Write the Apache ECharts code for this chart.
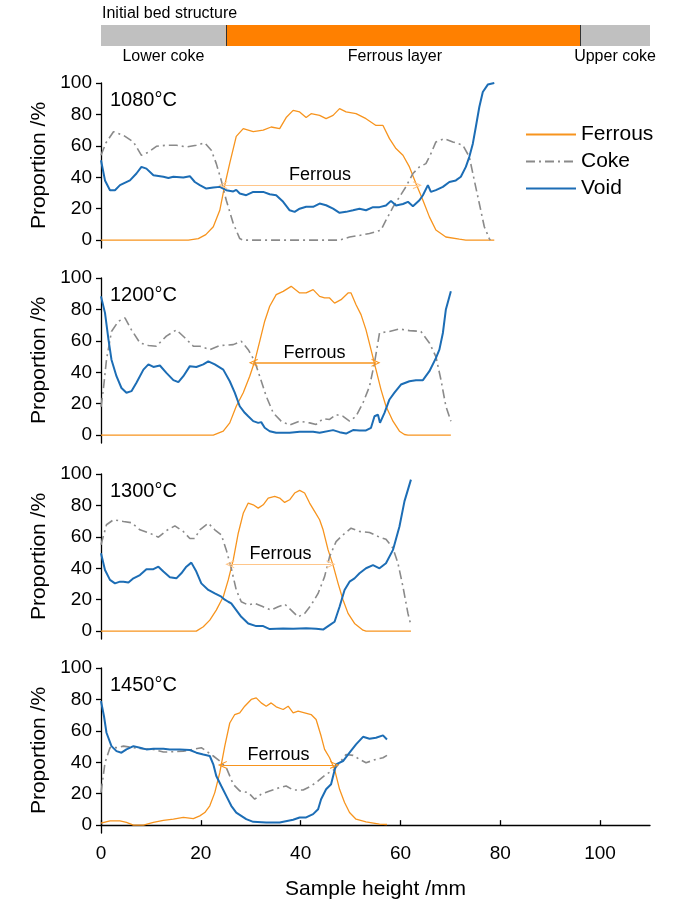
<!DOCTYPE html>
<html><head><meta charset="utf-8">
<script src="https://cdn.jsdelivr.net/npm/echarts@6/dist/echarts.min.js"></script>
<style>html,body{margin:0;padding:0;background:#fff}#c{width:679px;height:903px}</style>
</head><body><div id="c"></div><script>
// ---- data ----
const temps = ['1080°C', '1200°C', '1300°C', '1450°C'];
const tickValues = [0, 20, 40, 60, 80, 100];
const bedLayers = ['Lower coke', 'Ferrous layer', 'Upper coke'];
const bedThickness = [25, 71, 14];
const arrowStart = [24.4, 30.5, 25.8, 24.3];
const arrowEnd = [63.4, 55.1, 46.1, 46.8];
const arrowLevel = [35, 46, 42.5, 38.3];

const f1080 = [[0,0],[17.5,0],[19.5,1],[21,3.5],[22.5,8.5],[23.8,19],[24.8,35],[25.8,49],[27.1,66],[28.5,71],[30.5,69],[32.5,70],[34.1,72],[35.8,71],[37.1,78],[38.5,82.6],[39.8,81.6],[41.1,78],[42.1,80.5],[43.8,79.4],[45.1,77.3],[46.5,79.4],[47.8,83.7],[49.1,81.6],[51.1,80.5],[53.1,77.3],[55.1,73],[56.5,73],[57.8,64.6],[59.1,58.3],[60.5,54],[61.8,46.6],[63.1,36],[64.5,25.4],[65.8,14.8],[67.1,6.4],[69.1,2],[71.8,0.6],[73.1,0],[78.8,0]];
const c1080 = [[0,54],[1,62],[2.5,69],[4.5,66.7],[6.5,62.5],[8.1,54],[9.5,56],[11.1,59.7],[13.1,60.4],[15.1,60.4],[17.1,59.3],[19.1,60.4],[20.8,61.9],[22.1,57.2],[23.1,48.7],[24.1,38],[25.1,25.4],[26.5,10.6],[27.8,1],[28.5,0],[47.8,0],[49.8,2],[51.8,3],[53.8,4.2],[56.1,6.4],[57.1,12.7],[58.5,21],[59.8,27.5],[61.1,34],[62.5,42.4],[63.8,46.6],[65.1,48.7],[66.1,55],[67.1,62.5],[68.8,64.6],[70.5,62.5],[72.5,60.4],[73.8,53],[74.8,38],[75.8,23.3],[76.8,8.5],[77.8,1],[78,0]];
const v1080 = [[0,50.8],[0.8,38],[1.8,31.8],[2.8,31.8],[3.8,35],[5.8,38],[7.1,42.4],[8.1,46.6],[9.1,45.5],[10.5,41.3],[12.5,40.3],[13.5,39.5],[14.5,40.3],[16.5,39.8],[17.8,40.7],[18.8,37],[19.8,35],[21.1,32.8],[22.5,33.5],[23.8,33.9],[25.1,31.8],[26.5,31],[27.1,32],[27.8,29.7],[29.1,28.6],[30.5,30.7],[32.5,30.7],[33.8,29.2],[35.1,28.6],[36.5,24.4],[37.8,19],[38.8,18],[39.8,20],[41.1,21.2],[42.5,21.2],[43.8,23.3],[45.1,22.2],[46.5,20],[47.8,17.4],[49.1,18],[50.5,19],[51.8,20],[53.1,19],[54.5,21],[55.8,21],[57.1,22],[58.1,25],[59.1,22],[60.5,23],[61.5,24.4],[62.5,21.6],[63.8,25.4],[64.5,28.6],[65.5,35],[66.1,30.7],[67.1,31.8],[68.5,33.9],[69.8,37],[71.1,38],[72.1,40.3],[73.1,46.6],[73.8,53],[74.5,61.4],[75.1,72],[75.8,84.7],[76.5,94.3],[77.5,99],[78.8,100]];

const f1200 = [[0,0],[22.5,0],[24.5,2.5],[25.8,7.8],[27.1,18.4],[28.5,27],[29.8,37.5],[30.8,47],[31.8,59.7],[32.8,72.5],[33.8,82],[35.1,89.4],[36.5,91.5],[38.1,94.7],[39.8,90.5],[41.1,90.5],[42.5,92.6],[43.8,88.3],[44.8,87.3],[45.8,87.3],[46.8,84],[48.1,86.2],[49.5,90.5],[50.1,90.5],[51.1,83],[52.1,76.7],[53.1,67],[54.1,54.4],[55.1,41.7],[56.1,29],[57.1,18.4],[58.5,8.9],[59.8,2.5],[60.8,0.4],[61.5,0],[70.1,0]];
const c1200 = [[0,18],[0.5,30],[1.1,48],[2.1,66],[3.5,72.5],[4.8,74.6],[6.1,67],[7.8,58.7],[9.5,57],[11.1,56.6],[13.1,63],[15.1,67],[16.8,62],[18.5,56.6],[19.8,56.6],[21.8,54.4],[23.8,57],[26.5,57.6],[28.1,59.7],[29.5,54.4],[30.8,47],[31.8,37.5],[33.1,24.8],[34.5,14.2],[36.1,8.9],[37.8,6.4],[39.8,8.9],[41.8,7.8],[43.1,6.8],[44.5,10.4],[45.8,10],[47.1,13.1],[48.5,12],[49.8,8.9],[51.1,12],[52.5,20.6],[53.8,31],[54.8,46],[55.8,65],[57.8,66],[59.8,67.6],[61.8,66.5],[64.1,66],[65.8,58.7],[67.1,50],[68.1,35.4],[69.1,18.4],[70.1,8.9]];
const v1200 = [[0,88.3],[0.8,77.8],[1.5,60.8],[2.1,48],[3.1,37.5],[4.1,30],[5.1,27],[6.1,28],[7.1,33.3],[8.5,41.7],[9.5,45],[10.5,43.4],[11.8,44.3],[13.1,39.6],[14.5,35],[15.5,33.7],[16.5,37.5],[17.8,43.9],[19.1,43.4],[20.5,45],[21.5,47],[22.8,45],[24.5,41.7],[25.8,34.3],[26.8,27],[27.8,18.4],[28.8,14.2],[29.5,12],[30.5,8.9],[31.5,7.8],[32.1,8.3],[32.8,4.7],[33.8,2.5],[35.1,1.5],[37.8,1.5],[39.8,2.1],[42.5,2.1],[43.8,1.5],[46.5,3.2],[47.8,1.9],[49.1,1],[50.5,3.2],[51.8,3],[53.1,3],[54.1,4.7],[54.8,12],[55.5,13],[55.9,7.8],[56.8,14.2],[57.8,22.7],[58.8,27],[60.1,32.2],[61.8,34.3],[63.1,35],[64.5,35],[65.8,40.7],[67.1,49],[67.8,54.4],[68.5,65],[69.1,80],[70.1,91.5]];

const f1300 = [[0,0],[19.1,0],[20.5,2.8],[21.8,7],[23.1,13.4],[24.5,21.9],[25.5,32.6],[26.5,45.3],[27.5,62.3],[28.5,75],[29.5,81.5],[30.5,80.4],[31.5,78.3],[32.5,80.4],[33.5,84.7],[34.8,85.7],[35.8,84.7],[36.8,81.9],[37.8,83.6],[38.8,87.9],[39.8,89.6],[40.8,87.9],[41.8,81.5],[42.8,76.2],[43.8,70.9],[44.5,64.5],[45.5,51.7],[46.5,42],[47.5,30.4],[48.5,19.8],[49.5,11.3],[50.8,4.9],[52.5,0.6],[53.1,0],[62.1,0]];
const c1300 = [[0,55],[1.1,67.7],[2.5,70.9],[4.5,69.8],[6.1,69],[7.8,64.5],[9.8,62.3],[11.5,59.8],[13.1,64],[14.8,67],[16.5,63.4],[17.8,59],[18.8,59],[19.8,64.5],[21.5,68.7],[22.8,64.5],[24.1,61.3],[25.1,51.7],[26.1,40],[27.1,26.2],[28.1,18.7],[29.5,16.6],[30.8,17.7],[32.5,15.5],[34.1,13.4],[35.5,15.5],[36.8,17.2],[38.1,13.4],[39.5,9.1],[40.8,11.3],[42.1,16.6],[43.5,24],[44.8,34.7],[45.8,47.4],[47.1,57],[48.5,61.3],[50.1,65.5],[51.8,63.4],[53.8,62.8],[55.8,59.8],[57.1,58.5],[58.5,52.8],[59.5,43.2],[60.5,28.3],[61.5,11.3],[62.1,3.8]];
const v1300 = [[0,49.6],[0.8,38.9],[1.8,32.6],[2.8,30.4],[3.8,31.5],[4.5,31.5],[5.5,30.9],[6.5,33.6],[7.8,35.7],[9.1,39.4],[10.5,39.4],[11.5,41],[12.5,37.9],[13.8,34.3],[15.1,33.6],[16.1,36.8],[17.1,41],[18.1,43.6],[19.1,37.9],[20.1,30.4],[21.5,26.2],[22.8,24],[24.1,21.9],[24.8,20],[25.5,18.7],[26.1,17.7],[27.1,13.4],[28.1,9.1],[29.5,4.9],[31.1,3.2],[32.5,3.2],[33.8,1.3],[36.5,1.7],[38.5,1.5],[41.1,1.9],[43.1,1.5],[44.5,1],[45.8,3.8],[46.8,6],[47.8,15.5],[48.8,26.2],[49.8,31.5],[50.8,33.6],[51.8,36.8],[53.1,40],[54.5,42],[55.8,40],[57.1,43.2],[58.5,51.7],[59.8,66.6],[60.8,82.6],[62.1,96.4]];

const f1450 = [[0,1.3],[1.8,2.7],[3.8,2.7],[5.1,1.7],[6.5,0],[8.5,0],[10.5,1.7],[12.5,3],[14.5,3.8],[16.5,4.9],[18.5,4.2],[19.8,5.9],[20.8,8],[21.8,12.3],[22.8,20.7],[23.8,33.4],[24.8,50.3],[25.8,65],[26.8,70.4],[27.8,71.5],[28.8,75.7],[30.1,80],[31.1,81],[32.1,77.8],[33.1,75.7],[34.1,77.8],[35.1,75.3],[36.5,73.6],[37.5,75.7],[38.5,71.5],[39.5,72.5],[40.8,71.5],[42.1,70.4],[43.1,67.2],[44.1,56.7],[44.8,48.2],[45.8,42.9],[46.8,35.5],[47.8,22.8],[48.8,14.4],[49.8,8],[51.1,3.8],[53.1,2.1],[55.8,0.6],[57.3,0.4]];
const c1450 = [[0,20.7],[0.8,39.7],[1.8,49.3],[3.1,49.3],[4.5,50.3],[6.5,49.3],[8.5,48.6],[10.5,48.2],[12.5,46.5],[14.5,46.7],[16.5,47.1],[18.5,48.2],[20.1,49.3],[21.1,47.1],[22.5,44],[23.8,40.8],[25.1,36.6],[26.5,26],[27.8,21.8],[29.5,20.7],[30.8,16.5],[32.1,19.7],[33.8,21.8],[35.8,23.9],[37.1,24.9],[38.5,22.4],[40.5,22.4],[42.1,24.9],[43.5,28.1],[45.1,32.3],[46.8,35.5],[47.8,39.7],[49.1,45],[50.5,44.4],[51.8,41.9],[53.1,39.7],[55.1,41.9],[56.5,42.9],[57.3,44.4]];
const v1450 = [[0,78.9],[0.6,69.3],[1.1,58.8],[2.1,50.3],[3.1,47.1],[4.1,46.1],[5.1,48.2],[6.5,50.3],[7.8,49.3],[9.1,48.2],[10.5,48.6],[12.5,48.6],[13.8,48.2],[15.8,48.2],[17.8,47.8],[19.1,46.1],[20.5,45],[21.8,44],[22.5,38.7],[23.1,31.3],[24.1,24.9],[25.1,18.6],[26.1,12.3],[27.1,8],[28.1,5.9],[29.1,3.8],[30.5,2.1],[33.1,1.7],[35.8,1.7],[38.5,3.4],[39.8,4.9],[41.1,4.9],[42.5,7],[43.5,10.1],[44.1,16.5],[45.1,22.8],[46.1,26],[47.1,38.7],[48.5,40.8],[49.8,46.1],[51.1,51.4],[52.5,56.2],[53.8,55],[55.1,55.6],[56.5,57.1],[57.3,54.5]];

const ferrousData = [f1080, f1200, f1300, f1450];
const cokeData = [c1080, c1200, c1300, c1450];
const voidData = [v1080, v1200, v1300, v1450];

// ---- layout / style ----
const FONT = 'Liberation Sans, Arial, sans-serif';
const ORANGE = '#F7941E', GRAY = '#8A8A8A', BLUE = '#1C6DB5';
const gridTops = [83, 278, 474, 668];
const arrowColors = ['#FFC68A', '#F7941E', '#FFC68A', '#F7941E'];
const arrowWidths = [1, 1.5, 1, 1.2];
const CHEVRON = 'path://M0,10 L5,0 L10,10 L8.6,10 L5,2.8 L1.4,10 Z';

const chart = echarts.init(document.getElementById('c'), null, {renderer: 'canvas'});

const grid = [{left: 101, width: 549, top: 25, height: 21}];
gridTops.forEach(t => grid.push({left: 101, width: 549, top: t, height: 165}));

const xAxis = [{gridIndex: 0, type: 'value', min: 0, max: 110, show: false}];
const yAxis = [{gridIndex: 0, type: 'category', data: ['bed'], show: false}];
for (let k = 0; k < 4; k++) {
  const last = k === 3;
  xAxis.push({
    gridIndex: k + 1, type: 'value', min: 0, max: 110, show: last,
    splitLine: {show: false},
    axisLine: {show: true, lineStyle: {color: '#000', width: 1.3}},
    axisTick: {show: true, inside: true, length: 5, customValues: tickValues, lineStyle: {color: '#000', width: 1.3}},
    axisLabel: {customValues: tickValues, fontSize: 19, color: '#000', margin: 11, fontFamily: FONT},
    name: last ? 'Sample height /mm' : '', nameLocation: 'middle', nameGap: 46,
    nameTextStyle: {fontSize: 21, color: '#000', fontFamily: FONT}
  });
  yAxis.push({
    gridIndex: k + 1, type: 'value', min: -5, max: 100,
    splitLine: {show: false},
    axisLine: {show: true, onZero: false, lineStyle: {color: '#000', width: 1.3}},
    axisTick: {show: true, inside: false, length: 5, customValues: tickValues, lineStyle: {color: '#000', width: 1.3}},
    axisLabel: {customValues: tickValues, fontSize: 19, color: '#000', margin: 9, fontFamily: FONT},
    name: 'Proportion /%', nameLocation: 'middle', nameGap: 48,
    nameTextStyle: {fontSize: 21, color: '#000', fontFamily: FONT}
  });
}

const series = [];
// initial bed structure bar
const bedColors = ['#C0C0C0', '#FF8000', '#C0C0C0'];
bedLayers.forEach((name, i) => {
  series.push({
    name, type: 'bar', stack: 'bed', xAxisIndex: 0, yAxisIndex: 0, barWidth: 21,
    data: [bedThickness[i]], itemStyle: {color: bedColors[i]}, silent: true,
    label: {show: true, position: 'bottom', distance: 3, formatter: name, fontSize: 16, color: '#000',
            fontFamily: FONT, offset: i === 1 ? [-8, 0] : [0, 0]},
    markLine: i === 1 ? {silent: true, symbol: 'none', label: {show: false},
      lineStyle: {color: '#333', width: 1, type: 'solid'},
      data: [{xAxis: bedThickness[0]}, {xAxis: bedThickness[0] + bedThickness[1]}]} : undefined
  });
});

for (let k = 0; k < 4; k++) {
  series.push({
    name: 'Ferrous', type: 'line', xAxisIndex: k + 1, yAxisIndex: k + 1, data: ferrousData[k],
    symbol: 'none', showSymbol: false, lineStyle: {color: ORANGE, width: 1.3}, itemStyle: {color: ORANGE},
    markLine: {
      silent: true, symbol: [CHEVRON, CHEVRON], symbolSize: [8, 9],
      itemStyle: {color: arrowColors[k]},
      lineStyle: {color: arrowColors[k], width: arrowWidths[k], type: 'solid'},
      label: {show: true, formatter: 'Ferrous', position: 'insideMiddleTop', distance: 1,
              fontSize: 18, color: '#000', fontFamily: FONT},
      data: [[{coord: [arrowStart[k], arrowLevel[k]]}, {coord: [arrowEnd[k], arrowLevel[k]]}]]
    }
  });
  series.push({
    name: 'Coke', type: 'line', xAxisIndex: k + 1, yAxisIndex: k + 1, data: cokeData[k],
    symbol: 'none', showSymbol: false, lineStyle: {color: GRAY, width: 1.6, type: [9, 4, 2, 4]}, itemStyle: {color: GRAY}
  });
  series.push({
    name: 'Void', type: 'line', xAxisIndex: k + 1, yAxisIndex: k + 1, data: voidData[k],
    symbol: 'none', showSymbol: false, lineStyle: {color: BLUE, width: 2}, itemStyle: {color: BLUE}
  });
}

const graphic = [{type: 'text', x: 102, y: 14, style: {text: 'Initial bed structure', fill: '#000',
  font: '16px ' + FONT, verticalAlign: 'middle'}}];
temps.forEach((t, k) => graphic.push({type: 'text', x: 110, y: gridTops[k] + 17,
  style: {text: t, fill: '#000', font: '20px ' + FONT, verticalAlign: 'middle'}}));

chart.setOption({
  backgroundColor: '#fff',
  animation: false,
  textStyle: {fontFamily: FONT},
  grid, xAxis, yAxis, series, graphic,
  legend: {
    data: ['Ferrous', 'Coke', 'Void'], orient: 'vertical', left: 520, top: 119,
    itemWidth: 50, itemHeight: 14, itemGap: 6,
    itemStyle: {opacity: 0},
    textStyle: {fontSize: 21, color: '#000', fontFamily: FONT}
  }
});
</script></body></html>
